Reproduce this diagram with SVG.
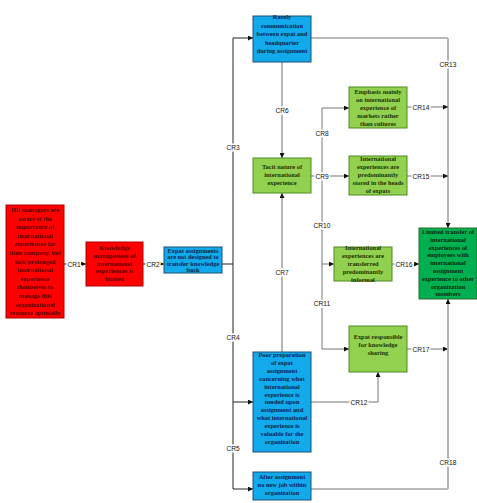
<svg xmlns="http://www.w3.org/2000/svg" width="477" height="503" viewBox="0 0 477 503">
<defs>
<marker id="ah" viewBox="0 0 6 6" refX="6" refY="3" markerWidth="5" markerHeight="5" orient="auto" markerUnits="userSpaceOnUse">
<path d="M0,0 L6,3 L0,6 z" fill="#111"/>
</marker>
<style>
.bt{font-family:"Liberation Serif","Times New Roman",serif;font-weight:bold;font-size:6.4px;text-anchor:middle}
.red rect{fill:#ff0000;stroke:#b00000;stroke-width:1}
.red text{fill:#5a0000}
.blue rect{fill:#12aaea;stroke:#1f4e79;stroke-width:1}
.blue text{fill:#0b1f4f}
.lg rect{fill:#92d050;stroke:#4e8a1e;stroke-width:1}
.lg text{fill:#1b3300}
.dg rect{fill:#00b050;stroke:#2d6b2d;stroke-width:1}
.dg text{fill:#0a2a0a}
.c{fill:none;stroke:#777;stroke-width:1}
.cd{fill:none;stroke:#222;stroke-width:1}
.cg{fill:none;stroke:#b5b5b5;stroke-width:2}
.lbl{font-family:"Liberation Sans",Arial,sans-serif;font-size:6.6px;fill:#111;text-anchor:middle;dominant-baseline:central;paint-order:stroke;stroke:#fff;stroke-width:3px}
</style>
</defs>
<rect width="477" height="503" fill="#fff"/>
<g id="connectors">
<path class="cd" d="M64,264 H86" marker-end="url(#ah)"/>
<path class="cd" d="M143,264 H164" marker-end="url(#ah)"/>
<path class="cd" d="M222,264 H233"/>
<path class="cd" d="M233,38 V489"/>
<path class="cd" d="M233,38 H253" marker-end="url(#ah)"/>
<path class="cd" d="M233,402 H253" marker-end="url(#ah)"/>
<path class="cd" d="M233,489 H253" marker-end="url(#ah)"/>
<path class="c" d="M311,38 H448"/>
<path class="cg" d="M448,38 V228" marker-end="url(#ah)"/>
<path class="cg" d="M282,62 V158" marker-end="url(#ah)"/>
<path class="cg" d="M282,352 V193" marker-end="url(#ah)"/>
<path class="c" d="M311,176 H349" marker-end="url(#ah)"/>
<path class="c" d="M322,108 V349"/>
<path class="c" d="M322,108 H349" marker-end="url(#ah)"/>
<path class="c" d="M322,264 H334" marker-end="url(#ah)"/>
<path class="c" d="M322,349 H349" marker-end="url(#ah)"/>
<path class="c" d="M407,107 H448" marker-end="url(#ah)"/>
<path class="c" d="M407,176 H448" marker-end="url(#ah)"/>
<path class="c" d="M392,264 H419" marker-end="url(#ah)"/>
<path class="c" d="M407,349 H448" marker-end="url(#ah)"/>
<path class="c" d="M311,402 H378 V372" marker-end="url(#ah)"/>
<path class="c" d="M311,489 H448"/>
<path class="cg" d="M448,489 V299" marker-end="url(#ah)"/>
<text class="lbl" x="74" y="264">CR1</text>
<text class="lbl" x="153" y="264">CR2</text>
<text class="lbl" x="233" y="147">CR3</text>
<text class="lbl" x="233" y="337">CR4</text>
<text class="lbl" x="233" y="448">CR5</text>
<text class="lbl" x="282" y="110">CR6</text>
<text class="lbl" x="282" y="272">CR7</text>
<text class="lbl" x="322" y="133">CR8</text>
<text class="lbl" x="322" y="176">CR9</text>
<text class="lbl" x="322" y="225">CR10</text>
<text class="lbl" x="322" y="303">CR11</text>
<text class="lbl" x="359" y="402">CR12</text>
<text class="lbl" x="448" y="64">CR13</text>
<text class="lbl" x="421" y="107">CR14</text>
<text class="lbl" x="421" y="176">CR15</text>
<text class="lbl" x="404" y="264">CR16</text>
<text class="lbl" x="421" y="349">CR17</text>
<text class="lbl" x="448" y="462">CR18</text>
</g>
<g id="hr" class="red">
<rect x="6" y="205" width="58" height="113"/>
<text class="bt"><tspan x="35" y="212">HR managers are</tspan><tspan x="35" dy="8.6">aware of the</tspan><tspan x="35" dy="8.6">importance of</tspan><tspan x="35" dy="8.6">international</tspan><tspan x="35" dy="8.6">experiences for</tspan><tspan x="35" dy="8.6">their company, but</tspan><tspan x="35" dy="8.6">lack prolonged</tspan><tspan x="35" dy="8.6">international</tspan><tspan x="35" dy="8.6">experience</tspan><tspan x="35" dy="8.6">themselves to</tspan><tspan x="35" dy="8.6">manage this</tspan><tspan x="35" dy="8.6">organizational</tspan><tspan x="35" dy="8.6">resource optimally</tspan></text>
</g>
<g id="km" class="red">
<rect x="86" y="242" width="57" height="44"/>
<text class="bt"><tspan x="114.5" y="250">Knowledge</tspan><tspan x="114.5" dy="7.8">management of</tspan><tspan x="114.5" dy="7.8">international</tspan><tspan x="114.5" dy="7.8">experiences is</tspan><tspan x="114.5" dy="7.8">limited</tspan></text>
</g>
<g id="expat" class="blue">
<rect x="164" y="247" width="58" height="26"/>
<text class="bt"><tspan x="193" y="253">Expat assignments</tspan><tspan x="193" dy="6.3">are not designed to</tspan><tspan x="193" dy="6.3">transfer knowledge</tspan><tspan x="193" dy="6.3">back</tspan></text>
</g>
<g id="rarely" class="blue">
<rect x="253" y="16" width="58" height="46"/>
<text class="bt"><tspan x="282" y="19">Rarely</tspan><tspan x="282" dy="8.5">communication</tspan><tspan x="282" dy="8.5">between expat  and</tspan><tspan x="282" dy="8.5">headquarter</tspan><tspan x="282" dy="8.5">during assignment</tspan></text>
</g>
<g id="tacit" class="lg">
<rect x="253" y="158" width="58" height="35"/>
<text class="bt"><tspan x="282" y="169">Tacit nature of</tspan><tspan x="282" dy="8">international</tspan><tspan x="282" dy="8">experience</tspan></text>
</g>
<g id="emphasis" class="lg">
<rect x="349" y="87" width="58" height="41"/>
<text class="bt"><tspan x="378" y="94">Emphasis mainly</tspan><tspan x="378" dy="7.9">on international</tspan><tspan x="378" dy="7.9">experience of</tspan><tspan x="378" dy="7.9">markets rather</tspan><tspan x="378" dy="7.9">than cultures</tspan></text>
</g>
<g id="stored" class="lg">
<rect x="349" y="156" width="58" height="39"/>
<text class="bt"><tspan x="378" y="161">International</tspan><tspan x="378" dy="8">experiences are</tspan><tspan x="378" dy="8">predominantly</tspan><tspan x="378" dy="8">stored in the heads</tspan><tspan x="378" dy="8">of expats</tspan></text>
</g>
<g id="informal" class="lg">
<rect x="334" y="247" width="58" height="34"/>
<text class="bt"><tspan x="363" y="250">International</tspan><tspan x="363" dy="8">experiences are</tspan><tspan x="363" dy="8">transferred</tspan><tspan x="363" dy="8">predominantly</tspan><tspan x="363" dy="8">informal</tspan></text>
</g>
<g id="limited" class="dg">
<rect x="419" y="228" width="58" height="71"/>
<text class="bt"><tspan x="448" y="234">Limited transfer of</tspan><tspan x="448" dy="7.8">international</tspan><tspan x="448" dy="7.8">experiences of</tspan><tspan x="448" dy="7.8">employees with</tspan><tspan x="448" dy="7.8">international</tspan><tspan x="448" dy="7.8">assignment</tspan><tspan x="448" dy="7.8">experience to other</tspan><tspan x="448" dy="7.8">organization</tspan><tspan x="448" dy="7.8">members</tspan></text>
</g>
<g id="responsible" class="lg">
<rect x="349" y="326" width="58" height="46"/>
<text class="bt"><tspan x="378" y="339">Expat responsible</tspan><tspan x="378" dy="7.8">for knowledge</tspan><tspan x="378" dy="7.8">sharing</tspan></text>
</g>
<g id="poor" class="blue">
<rect x="253" y="352" width="58" height="100"/>
<text class="bt"><tspan x="282" y="357">Poor preparation</tspan><tspan x="282" dy="7.9">of expat</tspan><tspan x="282" dy="7.9">assignment</tspan><tspan x="282" dy="7.9">concerning what</tspan><tspan x="282" dy="7.9">international</tspan><tspan x="282" dy="7.9">experience is</tspan><tspan x="282" dy="7.9">needed upon</tspan><tspan x="282" dy="7.9">assignment and</tspan><tspan x="282" dy="7.9">what international</tspan><tspan x="282" dy="7.9">experience is</tspan><tspan x="282" dy="7.9">valuable for the</tspan><tspan x="282" dy="7.9">organization</tspan></text>
</g>
<g id="after" class="blue">
<rect x="253" y="472" width="58" height="28"/>
<text class="bt"><tspan x="282" y="479">After assignment</tspan><tspan x="282" dy="8">no new job within</tspan><tspan x="282" dy="8">organization</tspan></text>
</g>
</svg>
